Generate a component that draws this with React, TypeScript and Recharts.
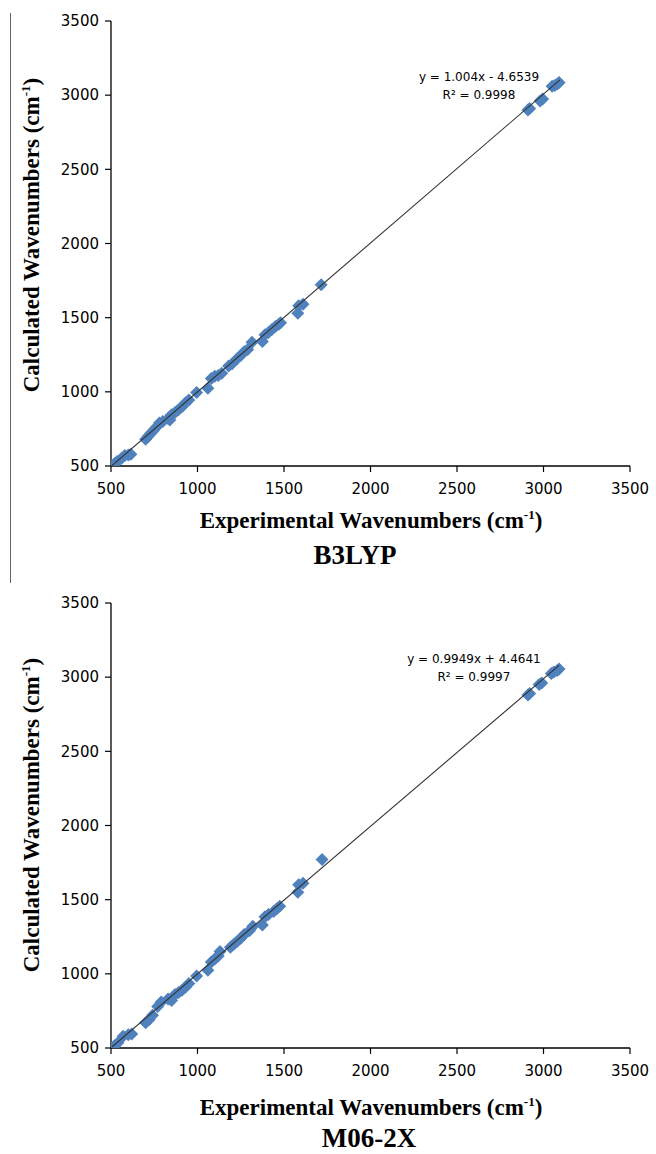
import React from 'react';
import { ScatterChart, Scatter, XAxis, YAxis, ReferenceDot } from 'recharts';

// ---- data ----
const axisTicks = [500, 1000, 1500, 2000, 2500, 3000, 3500];

const b3lypExp = [520, 535, 560, 580, 600, 615, 700, 715, 730, 745, 760, 780, 800, 830, 840, 850, 870, 890, 910, 930, 950, 995, 1060, 1080, 1100, 1120, 1140, 1180, 1200, 1230, 1250, 1270, 1290, 1315, 1375, 1390, 1410, 1430, 1450, 1470, 1480, 1580, 1585, 1610, 1715, 2910, 2920, 2980, 2995, 3050, 3065, 3080, 3090];
const b3lypCalc = [515, 530, 550, 570, 575, 580, 680, 700, 720, 740, 760, 790, 800, 820, 810, 845, 860, 880, 900, 925, 945, 995, 1025, 1090, 1105, 1110, 1125, 1175, 1190, 1225, 1245, 1270, 1285, 1335, 1340, 1385, 1400, 1420, 1440, 1455, 1465, 1530, 1580, 1590, 1722, 2900, 2910, 2960, 2975, 3060, 3065, 3075, 3085];

const m062xExp = [520, 540, 570, 600, 620, 700, 720, 740, 770, 790, 830, 850, 870, 890, 910, 930, 950, 995, 1060, 1080, 1100, 1120, 1130, 1190, 1210, 1230, 1250, 1270, 1300, 1320, 1375, 1390, 1410, 1440, 1460, 1475, 1580, 1585, 1610, 1720, 2910, 2920, 2975, 2990, 3045, 3060, 3080, 3090];
const m062xCalc = [515, 535, 580, 590, 595, 670, 690, 720, 780, 810, 830, 820, 860, 875, 890, 910, 935, 985, 1025, 1080, 1100, 1120, 1150, 1180, 1200, 1220, 1240, 1265, 1290, 1320, 1330, 1385, 1400, 1420, 1440, 1455, 1550, 1600, 1610, 1770, 2880, 2890, 2950, 2960, 3025, 3035, 3045, 3055];

const b3lypTrendX = [505, 3095];
const b3lypTrendY = [502, 3103];
const m062xTrendX = [505, 3090];
const m062xTrendY = [507, 3079];

const b3lypEquation = 'y = 1.004x - 4.6539';
const b3lypR2 = 'R² = 0.9998';
const m062xEquation = 'y = 0.9949x + 4.4641';
const m062xR2 = 'R² = 0.9997';

const toPoints = (xs: number[], ys: number[]) => xs.map((x, i) => ({ x, y: ys[i] }));

const Diamond = (props: any) => {
  const { cx, cy } = props;
  if (cx == null || cy == null) return <g />;
  const r = 6.5;
  return <path d={`M${cx},${cy - r}L${cx + r},${cy}L${cx},${cy + r}L${cx - r},${cy}Z`} fill="#4F81BD" />;
};

const NoShape = () => <g />;

const tickStyle = { fill: '#000', fontSize: 15, fontFamily: 'DejaVu Sans' };

interface PanelProps {
  points: { x: number; y: number }[];
  trend: { x: number; y: number }[];
  eq: string;
  r2: string;
  labelX: number;
}

const Panel = ({ points, trend, eq, r2, labelX }: PanelProps) => (
  <ScatterChart width={656} height={572} margin={{ top: 21, right: 26, bottom: 0, left: 0 }}>
    <XAxis
      type="number"
      dataKey="x"
      domain={[500, 3500]}
      ticks={axisTicks}
      interval={0}
      allowDataOverflow
      height={106}
      tickSize={6}
      tickMargin={11}
      tick={tickStyle}
      tickLine={{ stroke: '#000', strokeWidth: 1.2 }}
      axisLine={{ stroke: '#000', strokeWidth: 1.3 }}
    />
    <YAxis
      type="number"
      dataKey="y"
      domain={[500, 3500]}
      ticks={axisTicks}
      interval={0}
      allowDataOverflow
      width={111}
      tickSize={6}
      tickMargin={6}
      tick={tickStyle}
      tickLine={{ stroke: '#000', strokeWidth: 1.2 }}
      axisLine={{ stroke: '#000', strokeWidth: 1.3 }}
    />
    <Scatter data={points} shape={Diamond} isAnimationActive={false} />
    <Scatter
      data={trend}
      shape={NoShape}
      line={{ stroke: '#333', strokeWidth: 1.1 }}
      lineType="joint"
      isAnimationActive={false}
    />
    <ReferenceDot
      x={labelX}
      y={3121}
      r={0}
      fill="none"
      stroke="none"
      label={{ value: eq, position: 'center', fill: '#000', fontSize: 12, fontFamily: 'DejaVu Sans' }}
    />
    <ReferenceDot
      x={labelX}
      y={3000}
      r={0}
      fill="none"
      stroke="none"
      label={{ value: r2, position: 'center', fill: '#000', fontSize: 12, fontFamily: 'DejaVu Sans' }}
    />
  </ScatterChart>
);

const serif = 'Liberation Serif';

const XTitle = ({ y }: { y: number }) => (
  <text x={371} y={y} textAnchor="middle" fontFamily={serif} fontWeight="bold" fontSize={23} fill="#000">
    Experimental Wavenumbers (cm
    <tspan dy={-9} fontSize={13}>-1</tspan>
    <tspan dy={9}>)</tspan>
  </text>
);

const YTitle = ({ cy }: { cy: number }) => (
  <text
    transform={`translate(39,${cy}) rotate(-90)`}
    textAnchor="middle"
    fontFamily={serif}
    fontWeight="bold"
    fontSize={23}
    fill="#000"
  >
    Calculated Wavenumbers (cm
    <tspan dy={-9} fontSize={13}>-1</tspan>
    <tspan dy={9}>)</tspan>
  </text>
);

export default function App() {
  return (
    <div style={{ position: 'absolute', left: 0, top: 0, width: 656, height: 1154, background: '#fff' }}>
      <div style={{ position: 'absolute', left: 0, top: 0 }}>
        <Panel
          points={toPoints(b3lypExp, b3lypCalc)}
          trend={toPoints(b3lypTrendX, b3lypTrendY)}
          eq={b3lypEquation}
          r2={b3lypR2}
          labelX={2627}
        />
      </div>
      <div style={{ position: 'absolute', left: 0, top: 582 }}>
        <Panel
          points={toPoints(m062xExp, m062xCalc)}
          trend={toPoints(m062xTrendX, m062xTrendY)}
          eq={m062xEquation}
          r2={m062xR2}
          labelX={2598}
        />
      </div>
      <svg
        width={656}
        height={1154}
        style={{ position: 'absolute', left: 0, top: 0, pointerEvents: 'none' }}
      >
        <line x1={10.5} y1={13} x2={10.5} y2={583} stroke="#666" strokeWidth={1} />
        <YTitle cy={235} />
        <YTitle cy={815} />
        <XTitle y={528} />
        <XTitle y={1115} />
        <text x={355} y={564} textAnchor="middle" fontFamily={serif} fontWeight="bold" fontSize={27} fill="#000">B3LYP</text>
        <text x={369} y={1147} textAnchor="middle" fontFamily={serif} fontWeight="bold" fontSize={27} fill="#000">M06-2X</text>
      </svg>
    </div>
  );
}
